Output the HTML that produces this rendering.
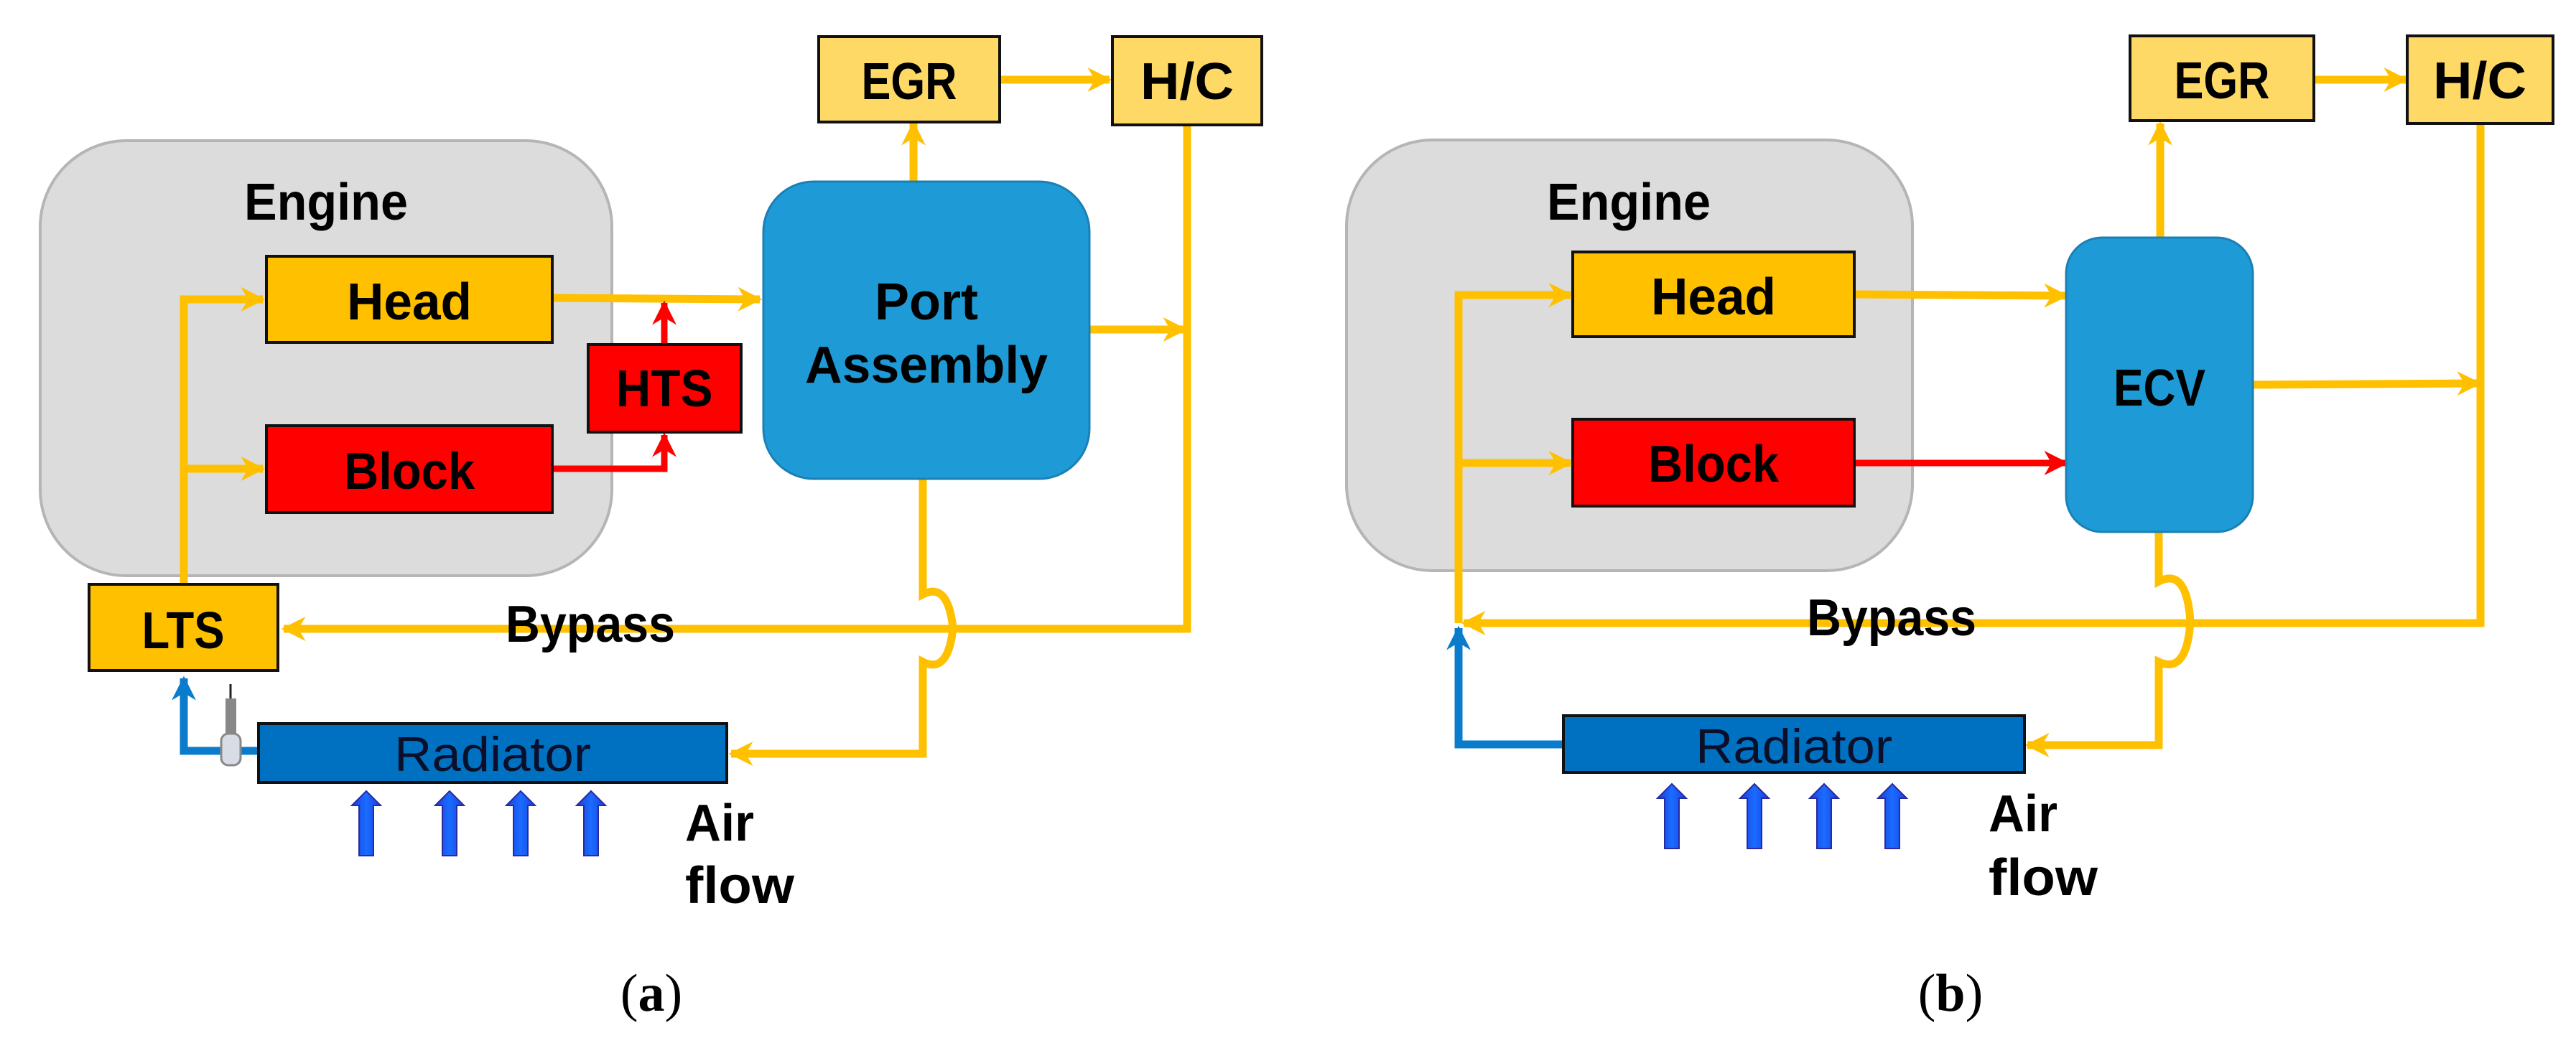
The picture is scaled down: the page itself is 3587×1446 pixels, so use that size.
<!DOCTYPE html>
<html><head><meta charset="utf-8"><style>html,body{margin:0;padding:0;background:#fff}svg{display:block}</style></head>
<body>
<svg xmlns="http://www.w3.org/2000/svg" width="3587" height="1446" viewBox="0 0 3587 1446">
<defs>
<marker id="ay" viewBox="0 0 10 10" refX="9" refY="5" markerWidth="34" markerHeight="40" markerUnits="userSpaceOnUse" orient="auto"><path d="M0,0 L10,5 L0,10 L3,5 z" fill="#FFC000"/></marker>
<marker id="ar" viewBox="0 0 10 10" refX="9" refY="5" markerWidth="34" markerHeight="40" markerUnits="userSpaceOnUse" orient="auto"><path d="M0,0 L10,5 L0,10 L3,5 z" fill="#FF0000"/></marker>
<marker id="ab" viewBox="0 0 10 10" refX="9" refY="5" markerWidth="34" markerHeight="40" markerUnits="userSpaceOnUse" orient="auto"><path d="M0,0 L10,5 L0,10 L3,5 z" fill="#0A7CCB"/></marker>
<linearGradient id="ga" x1="0" x2="1"><stop offset="0" stop-color="#1840e0"/><stop offset="0.5" stop-color="#1a6cff"/><stop offset="1" stop-color="#1840e0"/></linearGradient>
<g id="air"><path d="M-10,90 L-10,20 L-20,20 L0,0 L20,20 L10,20 L10,90 Z" fill="url(#ga)" stroke="#2a2aa0" stroke-width="2"/></g>
</defs>
<g font-family="'Liberation Sans', sans-serif" font-weight="bold" fill="#000">

<!-- ============ (a) ============ -->
<rect x="56" y="196" width="796" height="606" rx="120" fill="#DCDCDC" stroke="#b5b5b5" stroke-width="4"/>
<text x="454" y="306" font-size="72" text-anchor="middle" textLength="228" lengthAdjust="spacingAndGlyphs">Engine</text>

<g stroke="#FFC000" stroke-width="11" fill="none">
<path d="M256,813 L256,417 L366,417" marker-end="url(#ay)"/>
<path d="M256,653 L366,653" marker-end="url(#ay)"/>
<path d="M769,415 L1058,417" marker-end="url(#ay)"/>
<path d="M1272,253 L1272,172" marker-end="url(#ay)"/>
<path d="M1392,111 L1545,111" marker-end="url(#ay)"/>
<path d="M1517,459 L1650,459" marker-end="url(#ay)"/>
<path d="M1653,174 L1653,876 L395,876" marker-end="url(#ay)"/>
<path d="M1285,667 L1285,828 Q1320,810 1327,875 Q1320,940 1285,922 L1285,1050 L1018,1050" marker-end="url(#ay)"/>
</g>
<g stroke="#FF0000" stroke-width="9" fill="none">
<path d="M925,480 L925,422" marker-end="url(#ar)"/>
<path d="M769,653 L925,653 L925,606" marker-end="url(#ar)"/>
</g>
<rect x="371" y="357" width="398" height="120" fill="#FFC000" stroke="#111" stroke-width="4"/>
<text x="570" y="445" font-size="72" text-anchor="middle" textLength="174" lengthAdjust="spacingAndGlyphs">Head</text>
<rect x="371" y="593" width="398" height="121" fill="#FF0000" stroke="#111" stroke-width="4"/>
<text x="570" y="681" font-size="72" text-anchor="middle" textLength="182" lengthAdjust="spacingAndGlyphs">Block</text>
<rect x="819" y="480" width="213" height="122" fill="#FF0000" stroke="#111" stroke-width="4"/>
<text x="925" y="566" font-size="72" text-anchor="middle" textLength="135" lengthAdjust="spacingAndGlyphs">HTS</text>
<rect x="1063" y="253" width="454" height="414" rx="70" fill="#1E9BD7" stroke="#1a80b5" stroke-width="3"/>
<text x="1290" y="445" font-size="72" text-anchor="middle" textLength="144" lengthAdjust="spacingAndGlyphs">Port</text>
<text x="1290" y="533" font-size="72" text-anchor="middle" textLength="338" lengthAdjust="spacingAndGlyphs">Assembly</text>
<rect x="1140" y="51" width="252" height="119" fill="#FFD966" stroke="#111" stroke-width="4"/>
<text x="1266" y="138" font-size="72" text-anchor="middle" textLength="133" lengthAdjust="spacingAndGlyphs">EGR</text>
<rect x="1549" y="51" width="208" height="123" fill="#FFD966" stroke="#111" stroke-width="4"/>
<text x="1653" y="138" font-size="72" text-anchor="middle" textLength="130" lengthAdjust="spacingAndGlyphs">H/C</text>
<rect x="124" y="814" width="263" height="120" fill="#FFC000" stroke="#111" stroke-width="4"/>
<text x="255" y="903" font-size="72" text-anchor="middle" textLength="115" lengthAdjust="spacingAndGlyphs">LTS</text>
<text x="704" y="894" font-size="72" textLength="236" lengthAdjust="spacingAndGlyphs">Bypass</text>

<path d="M360,1046 L256,1046 L256,945" stroke="#0A7CCB" stroke-width="11" fill="none" marker-end="url(#ab)"/>
<line x1="321" y1="953" x2="321" y2="975" stroke="#222" stroke-width="3"/>
<rect x="314" y="973" width="15" height="50" fill="#888"/>
<rect x="308" y="1022" width="27" height="44" rx="10" fill="#d8dde5" stroke="#888" stroke-width="3"/>
<rect x="360" y="1008" width="652" height="82" fill="#0070C0" stroke="#111" stroke-width="4"/>
<text x="686" y="1074" font-size="68" font-weight="normal" text-anchor="middle" textLength="274" lengthAdjust="spacingAndGlyphs" fill="#0a0f2a">Radiator</text>
<use href="#air" x="510" y="1102"/><use href="#air" x="626" y="1102"/><use href="#air" x="725" y="1102"/><use href="#air" x="823" y="1102"/>
<text x="954" y="1171" font-size="72" textLength="96" lengthAdjust="spacingAndGlyphs">Air</text>
<text x="954" y="1258" font-size="72" textLength="152" lengthAdjust="spacingAndGlyphs">flow</text>
<text x="907" y="1408" font-size="74" font-weight="normal" font-family="'Liberation Serif', serif" text-anchor="middle">(<tspan font-weight="bold">a</tspan>)</text>

<!-- ============ (b) ============ -->
<rect x="1875" y="195" width="788" height="600" rx="120" fill="#DCDCDC" stroke="#b5b5b5" stroke-width="4"/>
<text x="2268" y="306" font-size="72" text-anchor="middle" textLength="228" lengthAdjust="spacingAndGlyphs">Engine</text>
<g stroke="#FFC000" stroke-width="11" fill="none">
<path d="M2031,868 L2031,411 L2187,411" marker-end="url(#ay)"/>
<path d="M2031,645 L2187,645" marker-end="url(#ay)"/>
<path d="M2582,410 L2877,412" marker-end="url(#ay)"/>
<path d="M3008,331 L3008,172" marker-end="url(#ay)"/>
<path d="M3222,111 L3350,111" marker-end="url(#ay)"/>
<path d="M3137,536 L3452,534" marker-end="url(#ay)"/>
<path d="M3454,172 L3454,868 L2038,868" marker-end="url(#ay)"/>
<path d="M3006,741 L3006,810 Q3045,790 3050,866 Q3045,940 3006,922 L3006,1038 L2823,1038" marker-end="url(#ay)"/>
</g>
<path d="M2582,645 L2877,645" stroke="#FF0000" stroke-width="9" fill="none" marker-end="url(#ar)"/>
<path d="M2177,1037 L2031,1037 L2031,875" stroke="#0A7CCB" stroke-width="11" fill="none" marker-end="url(#ab)"/>
<rect x="2190" y="351" width="392" height="118" fill="#FFC000" stroke="#111" stroke-width="4"/>
<text x="2386" y="438" font-size="72" text-anchor="middle" textLength="174" lengthAdjust="spacingAndGlyphs">Head</text>
<rect x="2190" y="584" width="392" height="121" fill="#FF0000" stroke="#111" stroke-width="4"/>
<text x="2386" y="671" font-size="72" text-anchor="middle" textLength="182" lengthAdjust="spacingAndGlyphs">Block</text>
<rect x="2877" y="331" width="260" height="410" rx="50" fill="#1E9BD7" stroke="#1a80b5" stroke-width="3"/>
<text x="3007" y="565" font-size="72" text-anchor="middle" textLength="128" lengthAdjust="spacingAndGlyphs">ECV</text>
<rect x="2966" y="50" width="256" height="118" fill="#FFD966" stroke="#111" stroke-width="4"/>
<text x="3094" y="137" font-size="72" text-anchor="middle" textLength="133" lengthAdjust="spacingAndGlyphs">EGR</text>
<rect x="3352" y="50" width="203" height="122" fill="#FFD966" stroke="#111" stroke-width="4"/>
<text x="3453" y="137" font-size="72" text-anchor="middle" textLength="130" lengthAdjust="spacingAndGlyphs">H/C</text>
<text x="2516" y="885" font-size="72" textLength="236" lengthAdjust="spacingAndGlyphs">Bypass</text>
<rect x="2177" y="997" width="642" height="79" fill="#0070C0" stroke="#111" stroke-width="4"/>
<text x="2498" y="1063" font-size="68" font-weight="normal" text-anchor="middle" textLength="274" lengthAdjust="spacingAndGlyphs" fill="#0a0f2a">Radiator</text>
<use href="#air" x="2328" y="1092"/><use href="#air" x="2443" y="1092"/><use href="#air" x="2540" y="1092"/><use href="#air" x="2635" y="1092"/>
<text x="2769" y="1158" font-size="72" textLength="96" lengthAdjust="spacingAndGlyphs">Air</text>
<text x="2769" y="1247" font-size="72" textLength="152" lengthAdjust="spacingAndGlyphs">flow</text>
<text x="2716" y="1408" font-size="74" font-weight="normal" font-family="'Liberation Serif', serif" text-anchor="middle">(<tspan font-weight="bold">b</tspan>)</text>
</g>
</svg>
</body></html>
